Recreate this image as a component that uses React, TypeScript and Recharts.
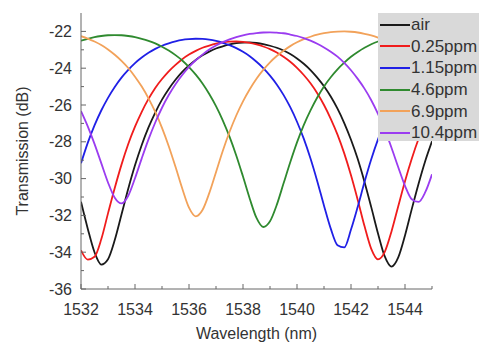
import React from 'react';
import { LineChart, Line, XAxis, YAxis, Legend } from 'recharts';

// wavelength grid (nm), 0.25 nm step
const wavelength = [
  1532, 1532.25, 1532.5, 1532.75, 1533, 1533.25, 1533.5, 1533.75, 1534, 1534.25,
  1534.5, 1534.75, 1535, 1535.25, 1535.5, 1535.75, 1536, 1536.25, 1536.5, 1536.75,
  1537, 1537.25, 1537.5, 1537.75, 1538, 1538.25, 1538.5, 1538.75, 1539, 1539.25,
  1539.5, 1539.75, 1540, 1540.25, 1540.5, 1540.75, 1541, 1541.25, 1541.5, 1541.75,
  1542, 1542.25, 1542.5, 1542.75, 1543, 1543.25, 1543.5, 1543.75, 1544, 1544.25,
  1544.5, 1544.75, 1545,
];

// transmission (dB)
const air = [
  -31.26, -32.72, -34.0, -34.67, -34.38, -33.34, -31.95, -30.55, -29.28, -28.17,
  -27.22, -26.41, -25.71, -25.13, -24.63, -24.2, -23.85, -23.55, -23.3, -23.1,
  -22.93, -22.81, -22.71, -22.64, -22.61, -22.6, -22.63, -22.69, -22.78, -22.89,
  -23.04, -23.23, -23.47, -23.76, -24.1, -24.51, -24.98, -25.54, -26.2, -26.98,
  -27.89, -28.94, -30.18, -31.55, -32.98, -34.23, -34.78, -34.28, -33.09, -31.66,
  -30.29, -29.04, -27.97,
];
const ppm025 = [
  -33.9, -34.4, -34.25, -33.3, -31.89, -30.51, -29.24, -28.12, -27.18, -26.37,
  -25.67, -25.07, -24.59, -24.17, -23.82, -23.51, -23.26, -23.06, -22.89, -22.77,
  -22.67, -22.6, -22.56, -22.55, -22.57, -22.62, -22.71, -22.82, -22.96, -23.15,
  -23.38, -23.65, -23.98, -24.37, -24.82, -25.36, -26.0, -26.75, -27.61, -28.63,
  -29.82, -31.16, -32.58, -33.82, -34.39, -33.98, -32.87, -31.5, -30.14, -28.92,
  -27.85, -26.95, -26.17,
];
const ppm115 = [
  -29.17, -28.06, -27.11, -26.3, -25.61, -25.02, -24.51, -24.09, -23.72, -23.42,
  -23.16, -22.95, -22.78, -22.65, -22.54, -22.46, -22.42, -22.4, -22.41, -22.45,
  -22.52, -22.62, -22.75, -22.91, -23.11, -23.35, -23.65, -23.99, -24.4, -24.88,
  -25.45, -26.12, -26.91, -27.83, -28.91, -30.14, -31.47, -32.72, -33.62, -33.74,
  -32.77, -31.53, -30.19, -28.95, -27.87, -26.94, -26.14, -25.48, -24.9, -24.42,
  -24.01, -23.66, -23.36,
];
const ppm46 = [
  -22.51, -22.4, -22.31, -22.25, -22.21, -22.2, -22.21, -22.25, -22.31, -22.4,
  -22.51, -22.65, -22.83, -23.04, -23.29, -23.58, -23.94, -24.35, -24.83, -25.4,
  -26.06, -26.83, -27.72, -28.74, -29.89, -31.09, -32.14, -32.63, -32.32, -31.43,
  -30.27, -29.11, -28.03, -27.09, -26.29, -25.59, -24.99, -24.49, -24.06, -23.7,
  -23.38, -23.12, -22.89, -22.7, -22.55, -22.44, -22.34, -22.27, -22.22, -22.2,
  -22.21, -22.24, -22.29,
];
const ppm69 = [
  -22.26, -22.39, -22.55, -22.74, -22.98, -23.27, -23.6, -23.99, -24.46, -25.0,
  -25.64, -26.38, -27.24, -28.24, -29.36, -30.54, -31.58, -32.05, -31.71, -30.79,
  -29.65, -28.5, -27.47, -26.57, -25.8, -25.14, -24.57, -24.09, -23.68, -23.34,
  -23.05, -22.8, -22.59, -22.42, -22.29, -22.18, -22.1, -22.04, -22.01, -22.0,
  -22.02, -22.06, -22.13, -22.22, -22.34, -22.49, -22.67, -22.9, -23.16, -23.48,
  -23.84, -24.28, -24.79,
];
const ppm104 = [
  -26.33, -27.16, -28.11, -29.16, -30.21, -31.04, -31.35, -30.93, -29.98, -28.9,
  -27.87, -26.95, -26.15, -25.46, -24.87, -24.37, -23.93, -23.57, -23.26, -22.99,
  -22.77, -22.58, -22.43, -22.31, -22.21, -22.14, -22.09, -22.06, -22.05, -22.07,
  -22.1, -22.17, -22.25, -22.36, -22.5, -22.67, -22.87, -23.1, -23.37, -23.71,
  -24.11, -24.58, -25.11, -25.74, -26.48, -27.34, -28.32, -29.38, -30.39, -31.12,
  -31.27, -30.74, -29.77,
];

const xTicks = [1532, 1533, 1534, 1535, 1536, 1537, 1538, 1539, 1540, 1541, 1542, 1543, 1544, 1545];
const yTicks = [-36, -35, -34, -33, -32, -31, -30, -29, -28, -27, -26, -25, -24, -23, -22];

const series = [
  { key: 'air', name: 'air', color: '#1a1a1a' },
  { key: 'ppm025', name: '0.25ppm', color: '#f01c1c' },
  { key: 'ppm115', name: '1.15ppm', color: '#2020e6' },
  { key: 'ppm46', name: '4.6ppm', color: '#2f8a2f' },
  { key: 'ppm69', name: '6.9ppm', color: '#f2a25a' },
  { key: 'ppm104', name: '10.4ppm', color: '#9b3cf0' },
];

const data = wavelength.map((w, i) => ({
  w,
  air: air[i],
  ppm025: ppm025[i],
  ppm115: ppm115[i],
  ppm46: ppm46[i],
  ppm69: ppm69[i],
  ppm104: ppm104[i],
}));

const AXIS = '#666';
const TEXT = '#333';

const tickLen = (v: number) => (v % 2 === 0 ? 5 : 3);

const BottomTick = (props: any) => {
  const { x, y, payload } = props;
  const v = payload.value;
  return (
    <g>
      <line x1={x} x2={x} y1={y} y2={y - tickLen(v)} stroke={AXIS} />
      {v % 2 === 0 && v < 1545 && (
        <text x={x} y={y + 26} textAnchor="middle" fontSize={16} fill={TEXT}>
          {v}
        </text>
      )}
    </g>
  );
};

const TopTick = (props: any) => {
  const { x, y, payload } = props;
  return <line x1={x} x2={x} y1={y} y2={y + tickLen(payload.value)} stroke={AXIS} />;
};

const LeftTick = (props: any) => {
  const { x, y, payload } = props;
  const v = payload.value;
  return (
    <g>
      <line x1={x} x2={x + tickLen(v)} y1={y} y2={y} stroke={AXIS} />
      {v % 2 === 0 && (
        <text x={x - 9} y={y} dy={5.5} textAnchor="end" fontSize={16} fill={TEXT}>
          {v}
        </text>
      )}
    </g>
  );
};

const RightTick = (props: any) => {
  const { x, y, payload } = props;
  return <line x1={x} x2={x - tickLen(payload.value)} y1={y} y2={y} stroke={AXIS} />;
};

const LegendBox = () => (
  <div style={{ background: '#d9d9d9', width: 101, height: 128, paddingTop: 1, boxSizing: 'border-box' }}>
    {series.map(s => (
      <div key={s.key} style={{ display: 'flex', alignItems: 'center', height: 21.6 }}>
        <svg width={33} height={4} style={{ display: 'block' }}>
          <line x1={2} x2={32} y1={2} y2={2} stroke={s.color} strokeWidth={2} />
        </svg>
        <span style={{ fontSize: 17, color: TEXT, lineHeight: '17px', whiteSpace: 'nowrap' }}>{s.name}</span>
      </div>
    ))}
  </div>
);

const App: React.FC = () => {
  return (
    <div style={{ position: 'absolute', left: 0, top: 0, fontFamily: '"Liberation Sans", Arial, sans-serif' }}>
      <LineChart width={479} height={347} data={data} margin={{ top: 13, right: 47, bottom: 0, left: 0 }}>
        <XAxis
          dataKey="w"
          type="number"
          domain={[1532, 1545]}
          ticks={xTicks}
          interval={0}
          height={58}
          tickSize={0}
          tickMargin={0}
          tickLine={false}
          tick={BottomTick}
          stroke={AXIS}
          allowDataOverflow
          label={{ value: 'Wavelength (nm)', position: 'insideBottom', offset: 8, fontSize: 16, fill: TEXT }}
        />
        <XAxis
          xAxisId="top"
          dataKey="w"
          orientation="top"
          type="number"
          domain={[1532, 1545]}
          ticks={xTicks}
          interval={0}
          height={0}
          tickSize={0}
          tickMargin={0}
          tickLine={false}
          tick={TopTick}
          stroke={AXIS}
          allowDataOverflow
        />
        <YAxis
          type="number"
          domain={[-36, -21]}
          ticks={yTicks}
          interval={0}
          width={81}
          tickSize={0}
          tickMargin={0}
          tickLine={false}
          tick={LeftTick}
          stroke={AXIS}
          allowDataOverflow
          label={{
            value: 'Transmission (dB)',
            angle: -90,
            position: 'insideLeft',
            offset: 22,
            fontSize: 16,
            fill: TEXT,
            style: { textAnchor: 'middle' },
          }}
        />
        <YAxis
          yAxisId="right"
          orientation="right"
          type="number"
          domain={[-36, -21]}
          ticks={yTicks}
          interval={0}
          width={0}
          tickSize={0}
          tickMargin={0}
          tickLine={false}
          tick={RightTick}
          stroke={AXIS}
          allowDataOverflow
        />
        {series.map(s => (
          <Line
            key={s.key}
            type="monotone"
            dataKey={s.key}
            name={s.name}
            stroke={s.color}
            strokeWidth={1.8}
            dot={false}
            activeDot={false}
            isAnimationActive={false}
          />
        ))}
        <Legend
          layout="vertical"
          align="center"
          verticalAlign="middle"
          content={<LegendBox />}
          wrapperStyle={{ left: 378, top: 13, width: 101, height: 128 }}
        />
      </LineChart>
    </div>
  );
};

export default App;
